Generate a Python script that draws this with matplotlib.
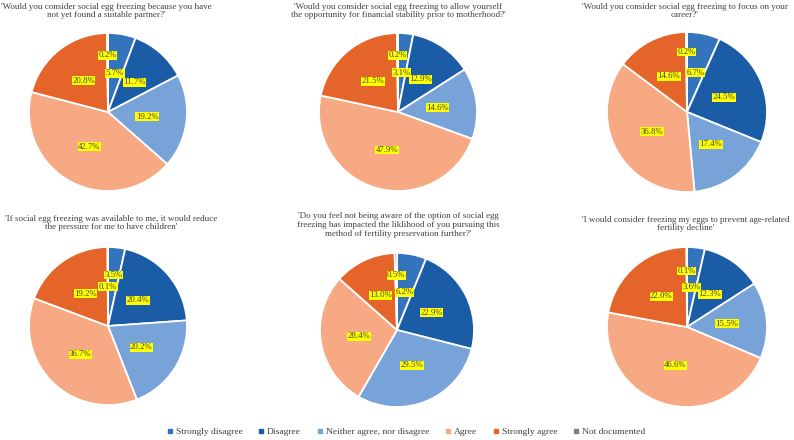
import matplotlib.pyplot as plt
from matplotlib.lines import Line2D
import numpy as np

categories = ["Strongly disagree", "Disagree", "Neither agree, nor disagree",
              "Agree", "Strongly agree", "Not documented"]

titles = [
    "'Would you consider social egg freezing because you have\nnot yet found a suitable partner?'",
    "'Would you consider social egg freezing to allow yourself\nthe opportunity for financial stability prior to motherhood?'",
    "'Would you consider social egg freezing to focus on your\ncareer?'",
    "'If social egg freezing was available to me, it would reduce\nthe pressure for me to have children'",
    "'Do you feel not being aware of the option of social egg\nfreezing has impacted the liklihood of you pursuing this\nmethod of fertility preservation further?'",
    "'I would consider freezing my eggs to prevent age-related\nfertility decline'",
]

partner = [5.7, 11.7, 19.2, 42.7, 20.8, 0.2]
finance = [3.1, 12.9, 14.6, 47.9, 21.5, 0.2]
career = [6.7, 24.5, 17.4, 36.8, 14.6, 0.2]
pressure = [3.5, 20.4, 20.2, 36.7, 19.2, 0.1]
awareness = [6.2, 22.9, 29.5, 28.4, 13.0, 0.5]
age_decline = [3.6, 12.3, 15.5, 46.6, 22.0, 0.1]

all_values = [partner, finance, career, pressure, awareness, age_decline]

colors = ["#3474BC", "#1B5CA7", "#77A3D9", "#F6A982", "#E4642A", "#7F7F7F"]

# layout in pixels (fig 794x440): pie centre x, centre y, radius, title y
W, H = 794, 440
pies = [(108, 112, 79, 11), (398, 112, 79, 11), (687, 112, 80, 11),
        (108, 326, 79, 223), (397, 330, 77, 225), (687, 327, 80, 224)]
title_x = [106, 398, 685, 111, 398, 686]
# label distance from centre (fraction of radius) per slice
label_r = [
    [0.5, 0.5, 0.5, 0.5, 0.5, 0.72],
    [0.5, 0.5, 0.5, 0.5, 0.5, 0.72],
    [0.5, 0.5, 0.5, 0.5, 0.5, 0.75],
    [0.65, 0.5, 0.5, 0.5, 0.5, 0.5],
    [0.5, 0.5, 0.5, 0.5, 0.5, 0.71],
    [0.5, 0.5, 0.5, 0.5, 0.5, 0.7],
]

plt.rcParams['font.family'] = ['Liberation Serif', 'DejaVu Serif']
fig = plt.figure(figsize=(W / 100, H / 100), dpi=100)

for i, vals in enumerate(all_values):
    cx, cy, r, ty = pies[i]
    ax = fig.add_axes([(cx - r) / W, 1 - (cy + r) / H, 2 * r / W, 2 * r / H])
    wedges, _ = ax.pie(vals, colors=colors, startangle=90, counterclock=False,
                       wedgeprops=dict(edgecolor="white", linewidth=1.3))
    ax.set_xlim(-1, 1)
    ax.set_ylim(-1, 1)
    ax.set_aspect("equal")
    for j, w in enumerate(wedges):
        ang = np.deg2rad((w.theta1 + w.theta2) / 2)
        d = label_r[i][j]
        ax.text(d * np.cos(ang), d * np.sin(ang), f"{vals[j]:.1f}%",
                ha="center", va="center", fontsize=6.3, color="#404040",
                bbox=dict(boxstyle="square,pad=0.05", fc="#FFFF00", ec="none"))
    fig.text(title_x[i] / W, 1 - ty / H, titles[i], ha="center", va="center",
             fontsize=6.45, color="#404040", linespacing=1.1)

handles = [Line2D([], [], marker="s", linestyle="none", markersize=3.2,
                  markerfacecolor=c, markeredgecolor=c) for c in colors]
fig.legend(handles, categories, loc="center", bbox_to_anchor=(406 / W, 1 - 432 / H),
           ncol=6, frameon=False, fontsize=6.8, handlelength=0.6, handletextpad=0.3,
           columnspacing=1.7, labelcolor="#404040")

fig.savefig("out.png", dpi=100)
